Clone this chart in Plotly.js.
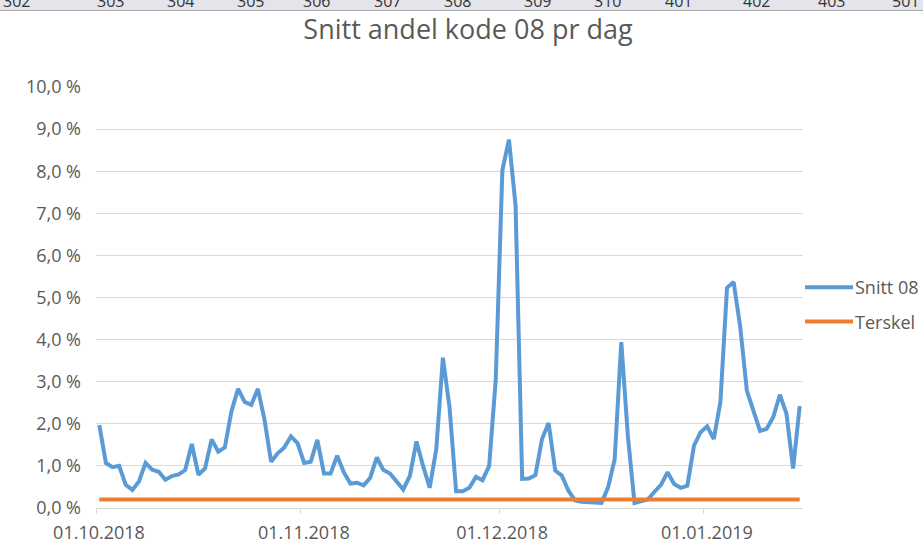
<!DOCTYPE html>
<html>
<head>
<meta charset="utf-8">
<script src="https://cdn.plot.ly/plotly-3.0.1.min.js"></script>
<style>
  html, body { margin: 0; padding: 0; background: #ffffff; }
  #chart { width: 923px; height: 548px; }
</style>
</head>
<body>
<div id="chart"></div>
<script>
// ---- Data ----
const chartTitle = 'Snitt andel kode 08 pr dag';
const seriesNames = ['Snitt 08', 'Terskel'];
const startDate = '2018-10-01';

// Daily average share of code 08, in percent (01.10.2018 - 15.01.2019)
const snitt08 = [
  1.97, 1.07, 0.97, 1.00, 0.55, 0.43, 0.63, 1.07, 0.91, 0.86,
  0.67, 0.76, 0.80, 0.90, 1.52, 0.79, 0.94, 1.63, 1.34, 1.44,
  2.30, 2.83, 2.52, 2.45, 2.83, 2.10, 1.10, 1.30, 1.44, 1.70,
  1.54, 1.07, 1.10, 1.62, 0.82, 0.82, 1.24, 0.85, 0.58, 0.60,
  0.54, 0.72, 1.20, 0.90, 0.82, 0.64, 0.44, 0.76, 1.58, 1.00,
  0.48, 1.40, 3.57, 2.40, 0.40, 0.40, 0.48, 0.74, 0.66, 1.00,
  3.05, 8.02, 8.75, 7.18, 0.69, 0.70, 0.78, 1.64, 2.02, 0.89,
  0.77, 0.41, 0.18, 0.15, 0.14, 0.14, 0.12, 0.49, 1.16, 3.94,
  1.70, 0.12, 0.16, 0.20, 0.38, 0.55, 0.85, 0.57, 0.48, 0.53,
  1.48, 1.80, 1.94, 1.64, 2.52, 5.23, 5.37, 4.30, 2.79, 2.31,
  1.83, 1.88, 2.16, 2.69, 2.24, 0.94, 2.42
];

// Threshold, in percent
const terskel = [
  0.2, 0.2, 0.2, 0.2, 0.2, 0.2, 0.2, 0.2, 0.2, 0.2,
  0.2, 0.2, 0.2, 0.2, 0.2, 0.2, 0.2, 0.2, 0.2, 0.2,
  0.2, 0.2, 0.2, 0.2, 0.2, 0.2, 0.2, 0.2, 0.2, 0.2,
  0.2, 0.2, 0.2, 0.2, 0.2, 0.2, 0.2, 0.2, 0.2, 0.2,
  0.2, 0.2, 0.2, 0.2, 0.2, 0.2, 0.2, 0.2, 0.2, 0.2,
  0.2, 0.2, 0.2, 0.2, 0.2, 0.2, 0.2, 0.2, 0.2, 0.2,
  0.2, 0.2, 0.2, 0.2, 0.2, 0.2, 0.2, 0.2, 0.2, 0.2,
  0.2, 0.2, 0.2, 0.2, 0.2, 0.2, 0.2, 0.2, 0.2, 0.2,
  0.2, 0.2, 0.2, 0.2, 0.2, 0.2, 0.2, 0.2, 0.2, 0.2,
  0.2, 0.2, 0.2, 0.2, 0.2, 0.2, 0.2, 0.2, 0.2, 0.2,
  0.2, 0.2, 0.2, 0.2, 0.2, 0.2, 0.2
];

// Spreadsheet column header row visible above the chart
const headerLabels = ['302', '303', '304', '305', '306', '307', '308', '309', '310', '401', '402', '403', '501'];

// ---- Layout helpers (pixel positions, not data) ----
const W = 923, H = 548;
const M = { l: 96, r: 120, t: 87, b: 40, autoexpand: false };
const plotW = W - M.l - M.r, plotH = H - M.t - M.b;
const headerX = [16, 110, 180, 250, 316, 387, 457, 537, 607, 678, 756, 831, 905];
const px2paperX = x => (x - M.l) / plotW;
const px2paperY = y => (H - M.b - y) / plotH;

// consecutive day categories
function dayList(start, n) {
  const t0 = Date.parse(start + 'T00:00:00Z');
  const out = [];
  for (let i = 0; i < n; i++) out.push(new Date(t0 + i * 864e5).toISOString().slice(0, 10));
  return out;
}
const dates = dayList(startDate, snitt08.length);
const rangeEnd = dayList(startDate, snitt08.length + 1)[snitt08.length];

const FONT = '"Open Sans", "Noto Sans", "DejaVu Sans", sans-serif';
const TXT = '#595959';

const traces = [
  {
    type: 'scatter', mode: 'lines', name: seriesNames[0],
    x: dates, y: snitt08,
    xperiod: 86400000, xperiodalignment: 'middle',
    line: { color: '#5b9bd5', width: 4 },
    legendgroup: 'a', hoverinfo: 'x+y'
  },
  {
    type: 'scatter', mode: 'lines', name: seriesNames[1],
    x: dates, y: terskel,
    xperiod: 86400000, xperiodalignment: 'middle',
    line: { color: '#ed7d31', width: 4 },
    legendgroup: 'b', hoverinfo: 'x+y'
  }
];

const shapes = [
  { type: 'rect', xref: 'paper', yref: 'paper',
    x0: px2paperX(-5), x1: px2paperX(W + 5), y0: px2paperY(10), y1: px2paperY(-5),
    fillcolor: '#e4e4ea', line: { width: 0 }, layer: 'below' },
  { type: 'line', xref: 'paper', yref: 'paper',
    x0: px2paperX(-5), x1: px2paperX(W + 5), y0: px2paperY(10.5), y1: px2paperY(10.5),
    line: { color: '#a6a6ac', width: 1 } }
];

const annotations = headerLabels.map((t, i) => ({
  text: t, xref: 'paper', yref: 'paper',
  x: px2paperX(headerX[i]), y: px2paperY(0.5),
  xanchor: 'center', yanchor: 'middle', showarrow: false,
  font: { family: FONT, size: 16, color: '#333333' }
}));

const layout = {
  width: W, height: H,
  margin: M,
  paper_bgcolor: '#ffffff', plot_bgcolor: '#ffffff',
  separators: ', ',
  font: { family: FONT, size: 18, color: TXT },
  title: {
    text: chartTitle,
    font: { family: FONT, size: 27, color: TXT },
    x: 468 / W, xanchor: 'center', y: 1 - 30 / H, yanchor: 'middle'
  },
  xaxis: {
    type: 'date',
    range: [startDate, rangeEnd],
    tick0: startDate, dtick: 'M1',
    tickformat: '%d.%m.%Y',
    ticks: 'outside', ticklen: 5, tickcolor: '#d9d9d9', tickwidth: 1,
    ticklabelstandoff: 3, ticklabelshift: 3,
    showline: true, linecolor: '#d9d9d9', linewidth: 1,
    showgrid: false, zeroline: false,
    tickfont: { family: FONT, size: 18, color: TXT },
    automargin: false,
    fixedrange: true
  },
  yaxis: {
    range: [0, 10], dtick: 1, tick0: 0,
    tickformat: '.1f', ticksuffix: ' %',
    showline: false, zeroline: false,
    showgrid: true, gridcolor: '#d9d9d9', gridwidth: 1,
    ticks: '', ticklabelstandoff: 14,
    tickfont: { family: FONT, size: 18, color: TXT },
    automargin: false,
    fixedrange: true
  },
  showlegend: true,
  legend: {
    x: px2paperX(800), xanchor: 'left', y: px2paperY(304.5), yanchor: 'middle',
    traceorder: 'grouped', tracegroupgap: 8,
    font: { family: FONT, size: 18, color: TXT },
    bgcolor: 'rgba(0,0,0,0)', itemwidth: 45
  },
  shapes: shapes,
  annotations: annotations
};

// lengthen the legend line samples to match the reference's legend keys
function widenLegendKeys() {
  document.querySelectorAll('#chart .legend .legendlines path').forEach(p => {
    p.setAttribute('d', 'M5,0h48');
  });
}

Plotly.newPlot('chart', traces, layout, { displayModeBar: false, responsive: false })
  .then(gd => {
    widenLegendKeys();
    gd.on('plotly_afterplot', widenLegendKeys);
  });
</script>
</body>
</html>
